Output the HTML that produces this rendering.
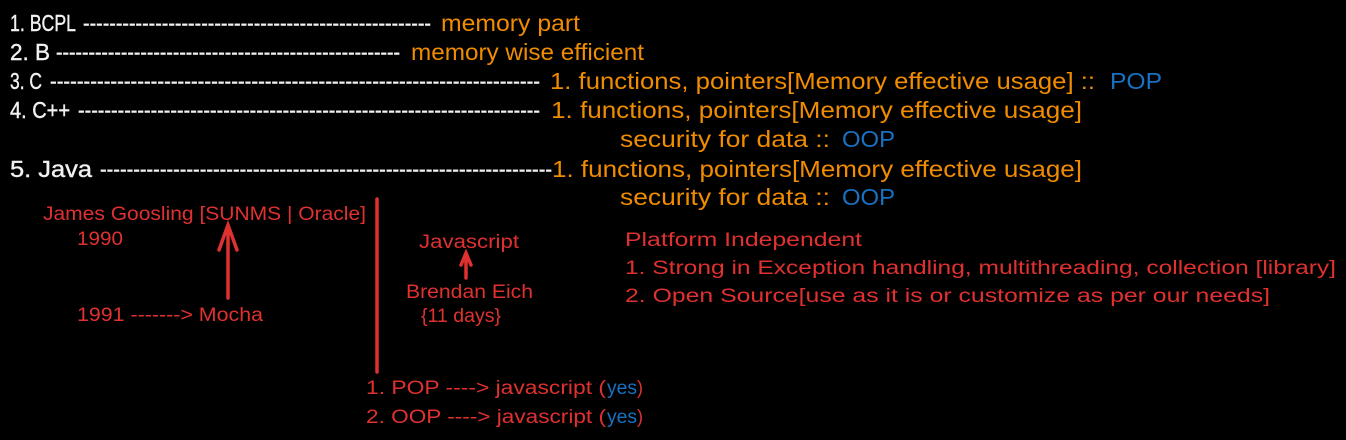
<!DOCTYPE html>
<html><head><meta charset="utf-8"><style>
html,body{margin:0;padding:0;background:#000;width:1346px;height:440px;overflow:hidden}
svg{display:block}
text{font-family:"Liberation Sans",sans-serif}
.w{fill:#f1f1f1;font-size:23px;stroke:#f1f1f1;stroke-width:0.4}
.o{fill:#f08c00;font-size:23px}
.b{fill:#1971c2;font-size:23px}
.r{fill:#e03131;font-size:19px}
.rb{fill:#1971c2;font-size:19px}
</style></head><body>
<svg width="1346" height="440" viewBox="0 0 1346 440" xmlns="http://www.w3.org/2000/svg">
<g>
<text class="w" x="10" y="31" textLength="66" lengthAdjust="spacingAndGlyphs">1. BCPL</text>
<text class="w" x="83" y="31" textLength="348" lengthAdjust="spacingAndGlyphs">-----------------------------------------------------</text>
<text class="o" x="441" y="31" textLength="139" lengthAdjust="spacingAndGlyphs">memory part</text>

<text class="w" x="10" y="60" textLength="40" lengthAdjust="spacingAndGlyphs">2. B</text>
<text class="w" x="56" y="60" textLength="344" lengthAdjust="spacingAndGlyphs">-----------------------------------------------------</text>
<text class="o" x="411" y="60" textLength="233" lengthAdjust="spacingAndGlyphs">memory wise efficient</text>

<text class="w" x="10" y="89" textLength="32" lengthAdjust="spacingAndGlyphs">3. C</text>
<text class="w" x="50" y="89" textLength="490" lengthAdjust="spacingAndGlyphs">-------------------------------------------------------------------------</text>
<text class="o" x="550" y="89" textLength="545" lengthAdjust="spacingAndGlyphs">1. functions, pointers[Memory effective usage] ::</text>
<text class="b" x="1110" y="89" textLength="52" lengthAdjust="spacingAndGlyphs">POP</text>

<text class="w" x="10" y="118" textLength="60" lengthAdjust="spacingAndGlyphs">4. C++</text>
<text class="w" x="78" y="118" textLength="462" lengthAdjust="spacingAndGlyphs">----------------------------------------------------------------------</text>
<text class="o" x="551" y="118" textLength="531" lengthAdjust="spacingAndGlyphs">1. functions, pointers[Memory effective usage]</text>
<text class="o" x="620" y="147" textLength="210" lengthAdjust="spacingAndGlyphs">security for data ::</text>
<text class="b" x="842" y="147" textLength="53" lengthAdjust="spacingAndGlyphs">OOP</text>

<text class="w" x="10" y="177" textLength="82" lengthAdjust="spacingAndGlyphs">5. Java</text>
<text class="w" x="100" y="177" textLength="452" lengthAdjust="spacingAndGlyphs">--------------------------------------------------------------------</text>
<text class="o" x="552" y="177" textLength="530" lengthAdjust="spacingAndGlyphs">1. functions, pointers[Memory effective usage]</text>
<text class="o" x="620" y="205" textLength="210" lengthAdjust="spacingAndGlyphs">security for data ::</text>
<text class="b" x="842" y="205" textLength="53" lengthAdjust="spacingAndGlyphs">OOP</text>

<text class="r" x="43" y="220" textLength="323" lengthAdjust="spacingAndGlyphs">James Goosling [SUNMS | Oracle]</text>
<text class="r" x="77" y="245" textLength="46" lengthAdjust="spacingAndGlyphs">1990</text>
<text class="r" x="77" y="321" textLength="186" lengthAdjust="spacingAndGlyphs">1991 -------&gt; Mocha</text>

<text class="r" x="419" y="248" textLength="100" lengthAdjust="spacingAndGlyphs">Javascript</text>
<text class="r" x="406" y="298" textLength="127" lengthAdjust="spacingAndGlyphs">Brendan Eich</text>
<text class="r" x="421" y="322" textLength="80" lengthAdjust="spacingAndGlyphs">{11 days}</text>

<text class="r" x="625" y="246" textLength="237" lengthAdjust="spacingAndGlyphs">Platform Independent</text>
<text class="r" x="625" y="274" textLength="711" lengthAdjust="spacingAndGlyphs">1. Strong in Exception handling, multithreading, collection [library]</text>
<text class="r" x="625" y="302" textLength="645" lengthAdjust="spacingAndGlyphs">2. Open Source[use as it is or customize as per our needs]</text>

<text class="r" x="366" y="394" textLength="240" lengthAdjust="spacingAndGlyphs">1.  POP ----&gt; javascript (</text>
<text class="rb" x="607" y="394" textLength="30" lengthAdjust="spacingAndGlyphs">yes</text>
<text class="r" x="637" y="394" textLength="6" lengthAdjust="spacingAndGlyphs">)</text>
<text class="r" x="366" y="423" textLength="240" lengthAdjust="spacingAndGlyphs">2. OOP ----&gt; javascript (</text>
<text class="rb" x="607" y="423" textLength="30" lengthAdjust="spacingAndGlyphs">yes</text>
<text class="r" x="637" y="423" textLength="6" lengthAdjust="spacingAndGlyphs">)</text>
</g>
<g stroke="#e03131" stroke-width="3.5" stroke-linecap="round" fill="none">
<line x1="377" y1="199" x2="377" y2="372"/>
<line x1="228" y1="298" x2="228" y2="226"/>
<polyline points="219,250 228,225 237,250"/>
<line x1="466" y1="278" x2="466" y2="254"/>
<polyline points="461,265 466,253 471,265"/>
</g>
</svg>
</body></html>
